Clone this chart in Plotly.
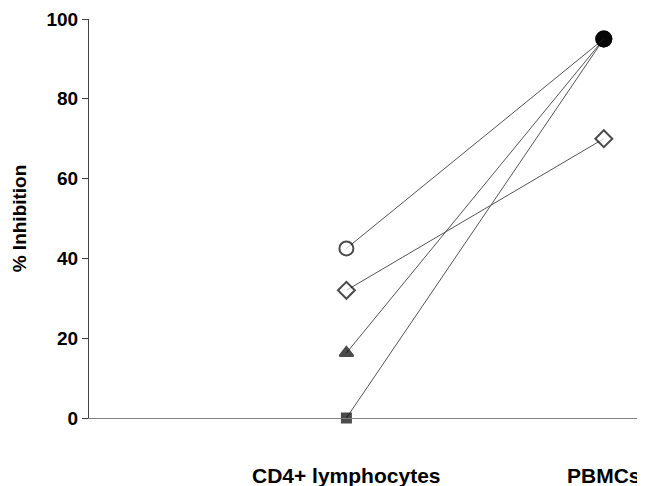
import plotly.graph_objects as go

categories = ["CD4+ lymphocytes", "PBMCs"]
cat_pos = [1, 2]
series_circle = [42.5, 95]
series_diamond = [32, 70]
series_triangle = [16.3, 95]
series_square = [0, 95]
y_ticks = [0, 20, 40, 60, 80, 100]

fig = go.Figure()

line_style = dict(color="#555555", width=1)

def add(vals, sym_cd4, sym_pb, fill_cd4, fill_pb, size_cd4, size_pb):
    fig.add_trace(go.Scatter(
        x=cat_pos, y=vals, mode="lines+markers", cliponaxis=False,
        line=line_style,
        marker=dict(symbol=[sym_cd4, sym_pb], size=[size_cd4, size_pb],
                    color=[fill_cd4, fill_pb],
                    line=dict(color="black", width=2)),
        showlegend=False))

add(series_square, "square", "circle", "black", "black", 9, 15)
add(series_triangle, "triangle-up", "circle", "black", "black", 12, 15)
add(series_diamond, "diamond", "diamond", "white", "white", 13, 13)
add(series_circle, "circle", "circle", "white", "black", 14, 15)

for c, p in zip(categories, cat_pos):
    fig.add_annotation(x=p, y=-0.143, xref="x", yref="paper", text=f"<b>{c}</b>",
                       showarrow=False, font=dict(size=21, color="black",
                       family="Liberation Sans, Arial, sans-serif"),
                       xanchor="center", yanchor="middle")

fig.update_layout(
    width=637, height=478,
    margin=dict(l=81, r=0, t=11, b=68),
    paper_bgcolor="white", plot_bgcolor="white",
    font=dict(family="Liberation Sans, Arial, sans-serif", color="black"),
    xaxis=dict(range=[0, 2.16], showgrid=False, zeroline=False, showticklabels=False,
               showline=True, linecolor="#808080", linewidth=1, ticks=""),
    yaxis=dict(range=[0, 100], tickvals=y_ticks, ticktext=[f"<b>{v}</b>" for v in y_ticks],
               showgrid=False, zeroline=False, showline=True, linecolor="#444444",
               linewidth=1, ticks="outside", ticklen=6, tickcolor="#444444",
               tickfont=dict(size=19, color="black"),
               title=dict(text="<b>% Inhibition</b>", font=dict(size=19, color="black"),
                          standoff=14)),
)

fig.write_html("out.html")
